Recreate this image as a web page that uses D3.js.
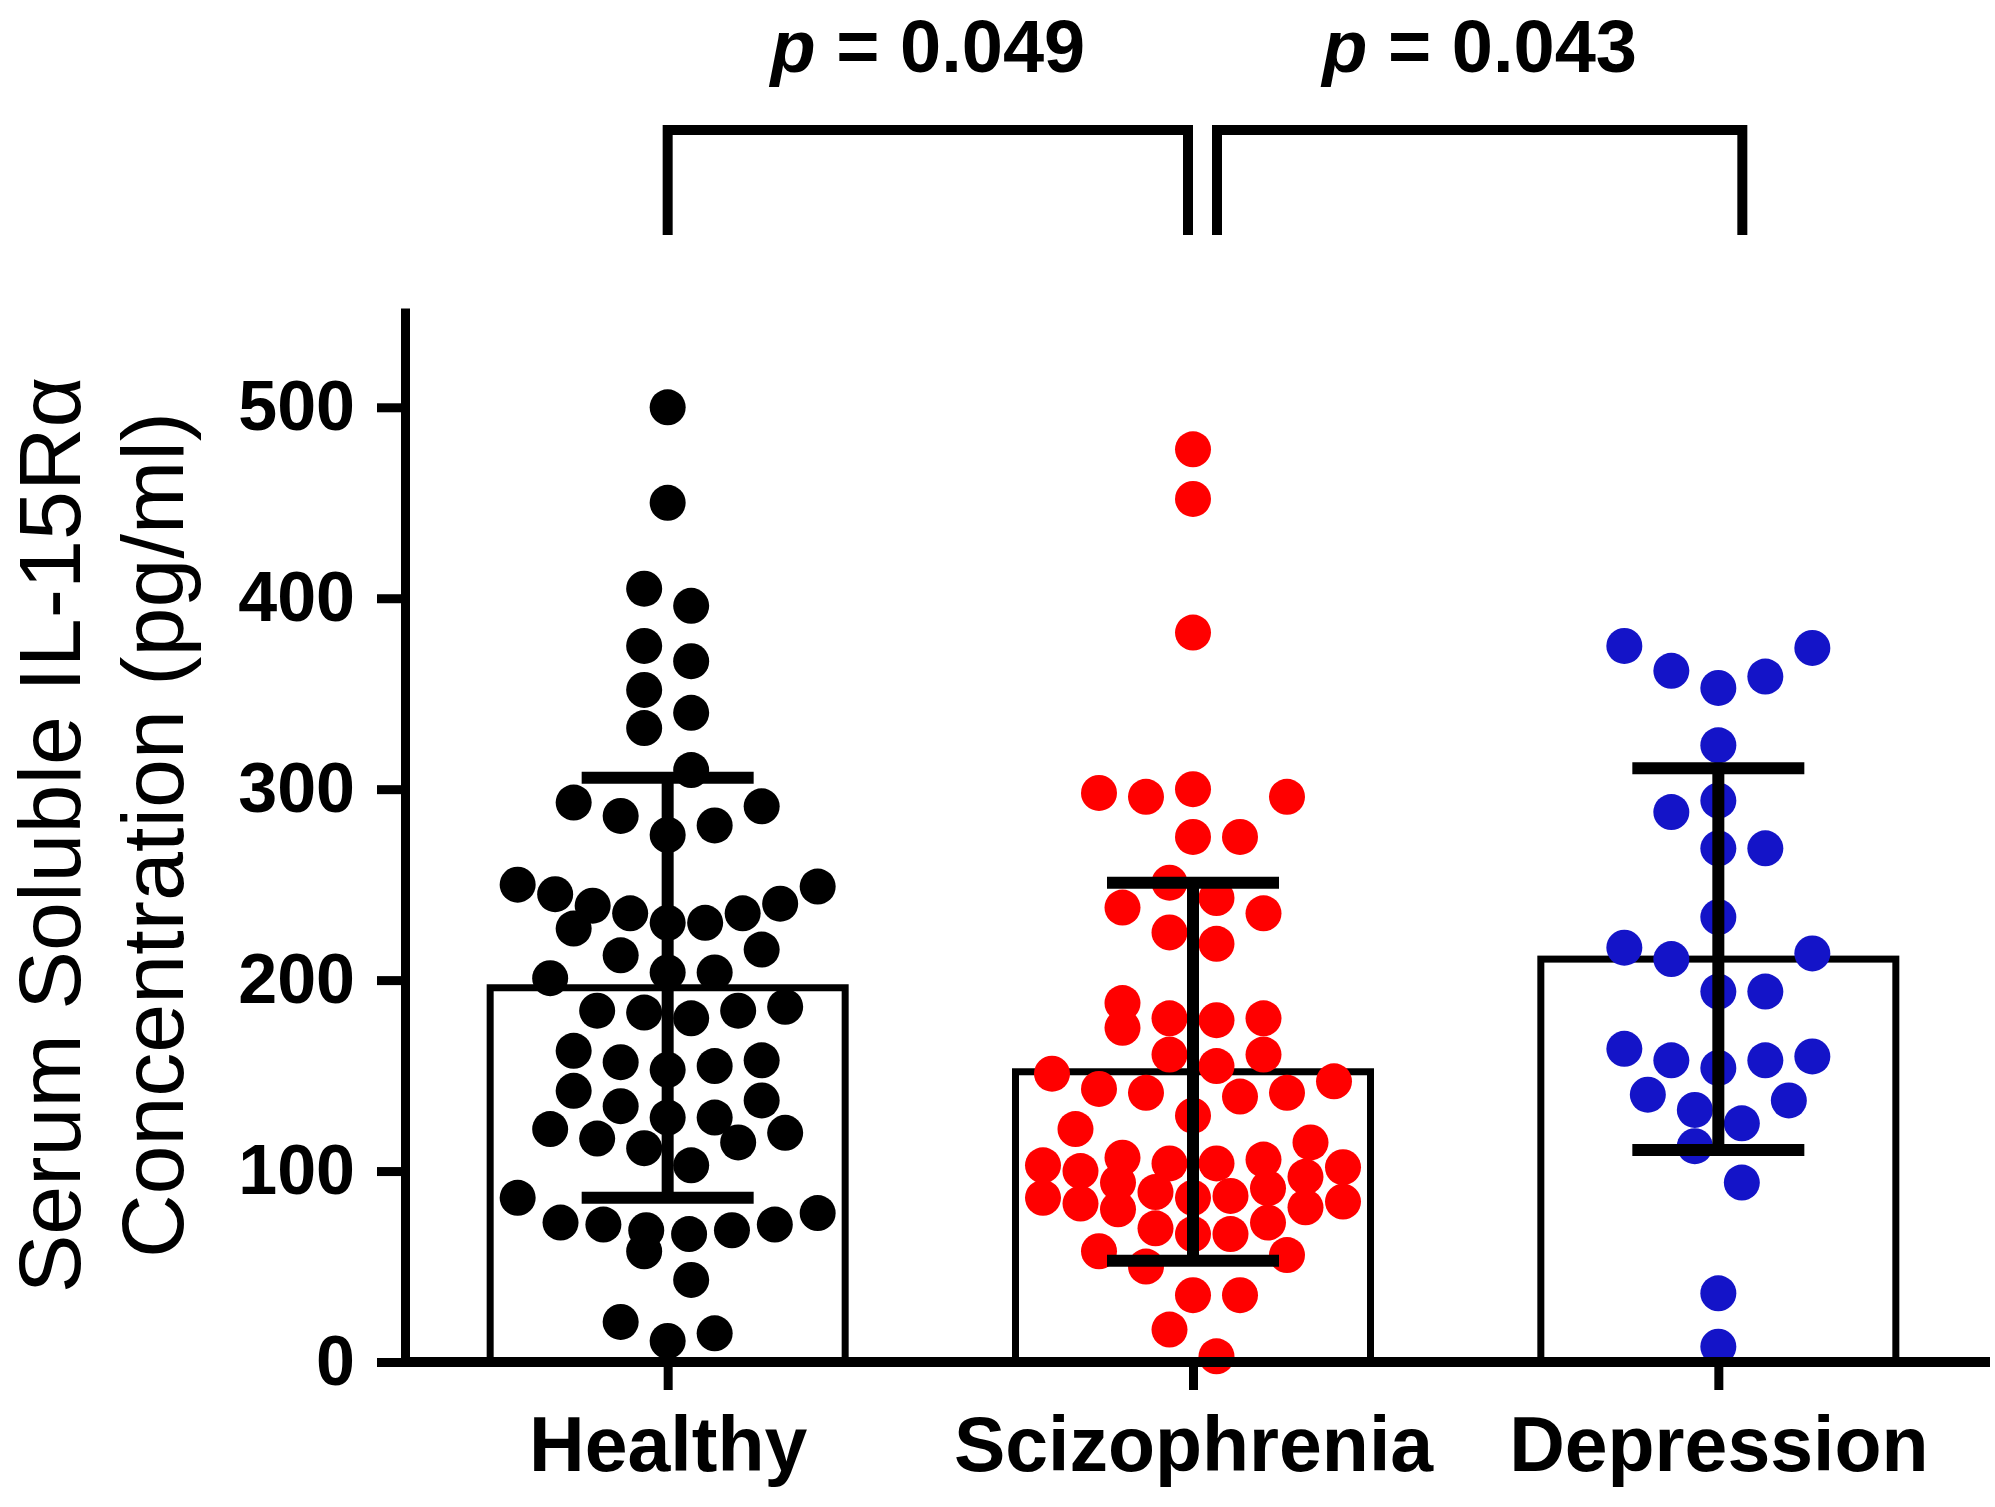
<!DOCTYPE html>
<html>
<head>
<meta charset="utf-8">
<script src="https://cdn.jsdelivr.net/npm/d3@7"></script>
<style>
  body { margin: 0; background: #fff; }
  text { font-family: "Liberation Sans", Arial, Helvetica, sans-serif; }
</style>
</head>
<body>
<script>
// values (pg/ml)
const categories = ["Healthy", "Scizophrenia", "Depression"];

const healthyValues = [500, 450, 405, 396, 375, 367, 352, 340, 332, 310, 293, 286, 276, 281, 291,
    249, 245, 239, 235, 230, 227, 230, 235, 240, 250,
    216, 213, 204, 201, 204,
    186, 184, 180, 183, 184, 163, 158, 155, 153, 157, 142, 134, 137,
    128, 122, 117, 112, 103, 115, 120, 128,
    86, 78, 73, 72, 69, 67, 69, 72, 58, 43, 21, 15, 11];

const schizoValues = [478, 452, 382,
    296, 300, 296, 298, 275, 275, 251,
    238, 243, 235, 225, 219,
    188, 180, 175, 179, 180,
    161, 155, 161, 151, 147, 139, 141, 141, 143,
    129, 122, 115,
    104, 106, 100, 107, 94, 102, 97, 103, 104,
    86, 84, 81, 89, 87, 91, 80, 83, 86,
    73, 67, 67, 70,
    56, 58, 50,
    35, 35, 17, 3];

const depressionValues = [374, 375, 359, 362, 353, 323, 294, 288, 269, 269, 233, 214, 211, 217,
    194, 194, 164, 158, 154, 158, 160, 140, 132, 137, 125, 113, 94, 36, 8];

const groupMeans = [196, 152, 211];
const groupSD = [110, 99, 100];
const dotColors = ["#000000", "#ff0000", "#1414c8"];
const yTicks = [0, 100, 200, 300, 400, 500];

const pairs = [["Healthy", "Scizophrenia"], ["Scizophrenia", "Depression"]];
const pLabels = ["0.049", "0.043"];

var w = 1995;
var h = 1507;

const svg = d3.select("body").append("svg")
    .attr("width", w)
    .attr("height", h);

svg.append("rect").attr("width", w).attr("height", h).attr("fill", "#fff");

var y = d3.scaleLinear().domain([0, 552]).range([1362, 308]);
var x = d3.scalePoint().domain(categories).range([405, 1981]).padding(0.5);

const barWidth = 355;
const capWidth = 172;
const dotR = 18;

var groups = categories.map(function(c, i) {
    return {name: c, values: [healthyValues, schizoValues, depressionValues][i],
        mean: groupMeans[i], sd: groupSD[i], color: dotColors[i]};
});

// scatter rows like a prism dot plot: close values share a row, lowest in the middle
function rowLayout(values, binH, maxRow, spacing, maxWidth) {
    var sorted = values.slice().sort(function(a, b) { return a - b; });
    var rows = [], cur = [];
    sorted.forEach(function(v) {
        if (cur.length && (v - cur[0] >= binH || cur.length >= maxRow)) {
            rows.push(cur);
            cur = [];
        }
        cur.push(v);
    });
    if (cur.length) rows.push(cur);

    var out = [];
    rows.forEach(function(row) {
        var k = row.length;
        var step = k > 1 ? Math.min(spacing, maxWidth / (k - 1)) : 0;
        var slots = d3.range(k).map(function(j) { return (j - (k - 1) / 2) * step; })
            .sort(function(a, b) { return Math.abs(a) - Math.abs(b) || b - a; });
        row.forEach(function(v, i) { out.push({value: v, dx: slots[i]}); });
    });
    return out;
}

// bars
svg.selectAll(".bar")
    .data(groups)
    .enter().append("rect")
    .attr("class", "bar")
    .attr("x", d => x(d.name) - barWidth / 2)
    .attr("y", d => y(d.mean))
    .attr("width", barWidth)
    .attr("height", d => y(0) - y(d.mean))
    .attr("fill", "#fff")
    .attr("stroke", "#000")
    .attr("stroke-width", 7);

// dots
groups.forEach(function(g) {
    var pts = rowLayout(g.values, 24, 9, 47, 300);
    svg.append("g")
        .selectAll("circle")
        .data(pts)
        .enter().append("circle")
        .attr("cx", d => x(g.name) + d.dx)
        .attr("cy", d => y(d.value))
        .attr("r", dotR)
        .attr("fill", g.color);
});

// error bars (mean +/- SD)
var err = svg.append("g").attr("stroke", "#000").attr("stroke-width", 12);
err.selectAll(".stem").data(groups).enter().append("line")
    .attr("x1", d => x(d.name)).attr("x2", d => x(d.name))
    .attr("y1", d => y(d.mean - d.sd)).attr("y2", d => y(d.mean + d.sd));
err.selectAll(".capTop").data(groups).enter().append("line")
    .attr("x1", d => x(d.name) - capWidth / 2).attr("x2", d => x(d.name) + capWidth / 2)
    .attr("y1", d => y(d.mean + d.sd)).attr("y2", d => y(d.mean + d.sd));
err.selectAll(".capBot").data(groups).enter().append("line")
    .attr("x1", d => x(d.name) - capWidth / 2).attr("x2", d => x(d.name) + capWidth / 2)
    .attr("y1", d => y(d.mean - d.sd)).attr("y2", d => y(d.mean - d.sd));

// y axis
var yAxis = svg.append("g")
    .attr("transform", "translate(405,0)")
    .call(d3.axisLeft(y).tickValues(yTicks).tickSize(28).tickPadding(22).tickSizeOuter(0));
yAxis.selectAll("path, line").attr("stroke-width", 9);
yAxis.selectAll("text").attr("font-size", 70).attr("font-weight", "bold").attr("fill", "#000");

// x axis
svg.append("line")
    .attr("x1", 401).attr("x2", 1990)
    .attr("y1", y(0)).attr("y2", y(0))
    .attr("stroke", "#000").attr("stroke-width", 10);

var xAxis = svg.append("g")
    .attr("transform", "translate(0," + y(0) + ")")
    .call(d3.axisBottom(x).tickSize(28).tickPadding(26));
xAxis.select(".domain").remove();
xAxis.selectAll("line").attr("stroke-width", 9);
xAxis.selectAll("text").attr("font-size", 77).attr("font-weight", "bold").attr("fill", "#000");

// y title
svg.append("text")
    .attr("transform", "translate(80,835) rotate(-90)")
    .attr("text-anchor", "middle")
    .attr("font-size", 88)
    .text("Serum Soluble IL-15R\u03b1");
svg.append("text")
    .attr("transform", "translate(183,835) rotate(-90)")
    .attr("text-anchor", "middle")
    .attr("font-size", 88)
    .text("Concentration (pg/ml)");

// significance brackets
const bracketShift = [[0, -5], [24, 24]];
const bracketTop = 130, bracketBottom = 235;

pairs.forEach(function(p, i) {
    var x1 = x(p[0]) + bracketShift[i][0];
    var x2 = x(p[1]) + bracketShift[i][1];
    svg.append("path")
        .attr("d", "M" + x1 + "," + bracketBottom + "V" + bracketTop + "H" + x2 + "V" + bracketBottom)
        .attr("fill", "none")
        .attr("stroke", "#000")
        .attr("stroke-width", 10);

    var t = svg.append("text")
        .attr("x", (x1 + x2) / 2)
        .attr("y", 72)
        .attr("text-anchor", "middle")
        .attr("font-size", 74)
        .attr("font-weight", "bold");
    t.append("tspan").attr("font-style", "italic").text("p");
    t.append("tspan").text(" = " + pLabels[i]);
});
</script>
</body>
</html>
